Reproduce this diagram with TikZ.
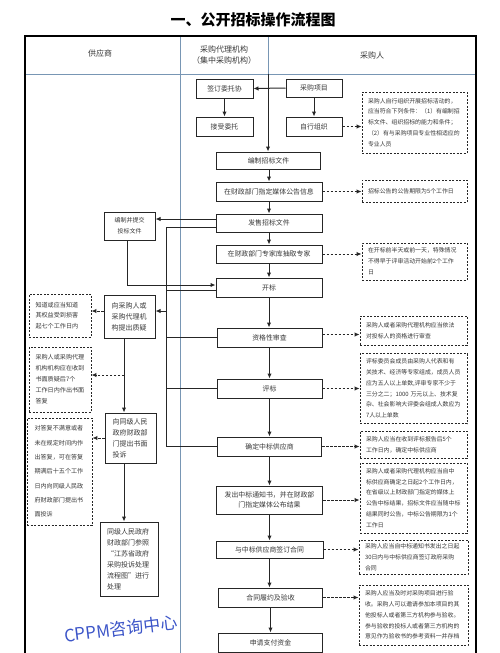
\documentclass[tikz,border=0pt]{standalone}
\usepackage{fontspec}
\newfontfamily\cjk{Noto Sans CJK SC}
\usetikzlibrary{arrows.meta,calc}
\definecolor{txt}{gray}{0.22}
\definecolor{gridc}{RGB}{120,150,180}
\definecolor{wm}{RGB}{60,85,200}
\tikzset{
 box/.style={draw=black!85, line width=1pt, fill=white, inner sep=0pt, align=center, text=txt, font=\cjk\fontsize{6.9}{10}\selectfont},
 lbox/.style={draw=black!85, line width=1pt, fill=white, inner sep=0pt, align=left, text=txt, font=\cjk\fontsize{7}{11}\selectfont},
 note/.style={draw=black!85, line width=0.9pt, dash pattern=on 2pt off 1.5pt, fill=white, inner sep=0pt, align=left, text=txt, font=\cjk\fontsize{5.9}{10.8}\selectfont},
 lnote/.style={note, font=\cjk\fontsize{6.1}{11}\selectfont},
 arr/.style={line width=1pt, draw=black!85, -{Latex[length=5pt,width=4.5pt]}},
 darr/.style={arr, dash pattern=on 2.5pt off 1.5pt},
 conn/.style={line width=1pt, draw=black!85},
 head/.style={text=txt, font=\cjk\fontsize{8}{11}\selectfont, align=center},
}
\begin{document}
\begin{tikzpicture}[x=1pt,y=-1pt]
\useasboundingbox (0,0) rectangle (500,653);
% title
\node[font=\cjk\bfseries\fontsize{15}{18}\selectfont] (title) at (253,20) {一、公开招标操作流程图};
% frame
\draw[gridc, line width=0.8pt] (25,74) -- (476,74);
\draw[gridc, line width=0.6pt] (180,36) -- (180,653);
\draw[gridc, line width=0.6pt] (268,36) -- (268,74);
\draw[line width=1.2pt] (25,653) -- (25,36) -- (476,36) -- (476,653);
\node[head] (h1) at (100,53) {供应商};
\node[head] (h2) at (224,55) {采购代理机构\\（集中采购机构）};
\node[head] (h3) at (372,55) {采购人};

% center / right boxes
\node[box, minimum width=57pt, minimum height=19pt] (wt) at (224.5,88.5) {签订委托协};
\node[box, minimum width=56pt, minimum height=18pt] (xm) at (314,88) {采购项目};
\node[box, minimum width=57pt, minimum height=19pt] (js) at (224.5,126.5) {接受委托};
\node[box, minimum width=56pt, minimum height=19pt] (zx) at (314,126.5) {自行组织};
\node[box, minimum width=104pt, minimum height=17pt] (bz) at (268.5,160.5) {编制招标文件};
\node[box, minimum width=106pt, minimum height=19pt] (gg) at (269,191.5) {在财政部门指定媒体公告信息};
\node[box, minimum width=106pt, minimum height=18pt] (fs) at (269,223) {发售招标文件};
\node[box, minimum width=106pt, minimum height=18pt] (zj) at (269,254) {在财政部门专家库抽取专家};
\node[box, minimum width=106pt, minimum height=19pt] (kb) at (269,287.5) {开标};
\node[box, minimum width=105pt, minimum height=19pt] (zg) at (269.5,337.5) {资格性审查};
\node[box, minimum width=105pt, minimum height=19pt] (pb) at (269.5,388.5) {评标};
\node[box, minimum width=104pt, minimum height=19pt] (qd) at (269.5,446.5) {确定中标供应商};
\node[box, minimum width=106pt, minimum height=28pt] (fc) at (269.5,500) {发出中标通知书，并在财政部\\门指定媒体公布结果};
\node[box, minimum width=107pt, minimum height=17pt] (qy) at (269.5,549.5) {与中标供应商签订合同};
\node[box, minimum width=104pt, minimum height=19pt] (ly) at (270.5,597.5) {合同履约及验收};
\node[box, minimum width=104pt, minimum height=19pt] (sq) at (270.5,642.5) {申请支付资金};

% notes right
\node[note, minimum width=105pt, minimum height=61pt, text width=93pt] (n1) at (414.5,122.5) {采购人自行组织开展招标活动的，\\应当符合下列条件：（1）有编制招\\标文件、组织招标的能力和条件；\\（2）有与采购项目专业性相适应的\\专业人员};
\node[note, minimum width=105pt, minimum height=22pt, text width=93pt] (n2) at (414.5,191) {招标公告的公告期限为5个工作日};
\node[note, minimum width=105pt, minimum height=37pt, text width=93pt] (n3) at (414.5,261.5) {在开标前半天或前一天，特殊情况\\不得早于评审活动开始前2个工作\\日};
\node[note, minimum width=107pt, minimum height=29pt, text width=95pt] (n4) at (413.5,330.5) {采购人或者采购代理机构应当依法\\对投标人的资格进行审查};
\node[note, minimum width=107pt, minimum height=70pt, text width=95pt] (n5) at (413.5,388.5) {评标委员会成员由采购人代表和有\\关技术、经济等专家组成，成员人员\\应为五人以上单数,评审专家不少于\\三分之二；1000 万元以上、技术复\\杂、社会影响大评委会组成人数应为\\7人以上单数};
\node[note, minimum width=107pt, minimum height=27pt, text width=95pt] (n6) at (413.5,444.5) {采购人应当在收到评标报告后5个\\工作日内，确定中标供应商};
\node[note, minimum width=107pt, minimum height=70pt, text width=95pt] (n7) at (413.5,498) {采购人或者采购代理机构应当自中\\标供应商确定之日起2个工作日内，\\在省级以上财政部门指定的媒体上\\公告中标结果，招标文件应当随中标\\结果同时公告，中标公告期限为1个\\工作日};
\node[note, minimum width=109pt, minimum height=34pt, text width=97pt] (n8) at (413.5,557) {采购人应当自中标通知书发出之日起\\30日内与中标供应商签订政府采购\\合同};
\node[note, minimum width=109pt, minimum height=60pt, text width=97pt] (n9) at (413.5,615) {采购人应当及时对采购项目进行验\\收。采购人可以邀请参加本项目的其\\他投标人或者第三方机构参与验收。\\参与验收的投标人或者第三方机构的\\意见作为验收书的参考资料一并存档};

% left boxes
\node[box, font=\cjk\fontsize{6}{11}\selectfont, minimum width=51pt, minimum height=28pt] (tj) at (129.5,226) {编制并提交\\投标文件};
\node[lbox, minimum width=51pt, minimum height=43pt, text width=36pt] (zy) at (129.5,316.5) {向采购人或\\采购代理机\\构提出质疑};
\node[lbox, minimum width=51pt, minimum height=50pt, text width=36pt] (ts) at (130.5,438) {向同级人民\\政府财政部\\门提出书面\\投诉};
\node[lbox, minimum width=58pt, minimum height=74pt, text width=44pt] (cl) at (129,559) {同级人民政府\\财政部门参照\\“江苏省政府\\采购投诉处理\\流程图”进行\\处理};
\node[lnote, font=\cjk\fontsize{6.1}{10.5}\selectfont, minimum width=62pt, minimum height=43pt, text width=49pt] (ln1) at (60,315.5) {知道或应当知道\\其权益受到损害\\起七个工作日内};
\node[lnote, minimum width=62pt, minimum height=65pt, text width=49pt] (ln2) at (60,379.5) {采购人或采购代理\\机构机构应在收到\\书面质疑后7个\\工作日内作出书面\\答复};
\node[lnote, font=\cjk\fontsize{6.1}{14.3}\selectfont, minimum width=65pt, minimum height=107pt, text width=50pt] (ln3) at (59.5,471.5) {对答复不满意或者\\未在规定时间内作\\出答复，可在答复\\期满后十五个工作\\日内向同级人民政\\府财政部门提出书\\面投诉};

% watermark
\node[rotate=7, text=wm, font=\cjk\fontsize{17}{20}\selectfont] (wmk) at (121,629) {CPPM咨询中心};

% connectors top
\draw[arr] (xm.west) -- (wt.east);
\draw[arr] (wt.south) -- (js.north);
\draw[arr] (xm.south) -- (zx.north);
\draw[darr] (zx.east) -- (zx.east -| n1.west);
\coordinate (topc) at (268,74);
\draw[arr] (topc) -- (topc |- bz.north);
% main chain
\draw[arr] (bz.south -| gg.north) -- (gg.north);
\draw[arr] (gg.south) -- (fs.north);
\draw[arr] (fs.south) -- (zj.north);
\draw[arr] (zj.south) -- (kb.north);
\draw[arr] (kb.south) -- (kb.south |- zg.north);
\draw[arr] (zg.south) -- (pb.north);
\draw[arr] (pb.south) -- (pb.south |- qd.north);
\draw[arr] (qd.south) -- (qd.south |- fc.north);
\draw[arr] (fc.south) -- (fc.south |- qy.north);
\draw[arr] (qy.south) -- (qy.south |- ly.north);
\draw[arr] (ly.south) -- (ly.south |- sq.north);
% dashed to right notes
\draw[darr] (gg.east) -- (gg.east -| n2.west);
\draw[darr] (zj.east) -- (zj.east -| n3.west);
\draw[darr] ([yshift=3pt]zg.east) -- ([yshift=3pt]zg.east -| n4.west);
\draw[darr] (pb.east) -- (pb.east -| n5.west);
\draw[darr] (qd.east) -- (qd.east -| n6.west);
\draw[darr] (fc.east) -- (fc.east -| n7.west);
\draw[darr] (qy.east) -- (qy.east -| n8.west);
\draw[darr] (ly.east) -- (ly.east -| n9.west);
% left side
\coordinate (bx) at (166,0);
\coordinate (fst) at ([yshift=4pt]fs.west);
\draw[arr] (fst) -- (fst -| tj.east);
\coordinate (fsb) at ([yshift=-4pt]fs.west);
\draw[conn] (fsb) -- (fsb -| bx) -- (qd.west -| bx) -- (qd.west);
\coordinate (kbb) at ([yshift=-2.5pt]kb.west);
\draw[conn] (kbb) -- (kbb -| bx);
\draw[conn] (zg.west) -- (zg.west -| bx);
\draw[conn] (pb.west) -- (pb.west -| bx);
\coordinate (zyin) at ([yshift=5.5pt]zy.east);
\draw[arr] (zyin -| bx) -- (zyin);
\coordinate (kbin) at ([yshift=2.5pt]kb.west);
\draw[arr] ([xshift=-2.5pt]tj.south) |- (kbin);
\coordinate (zyb) at ([xshift=-5.5pt]zy.south);
\draw[arr] (zyb) -- (zyb |- ts.north);
\coordinate (z1) at ([yshift=5.5pt]zy.west);
\draw[darr] (z1) -- (z1 -| ln1.east);
\coordinate (l2) at ([yshift=4.5pt]ln2.east);
\draw[darr] (l2 -| zyb) -- (l2);
\draw[darr] (ts.west) -- (ts.west -| ln3.east);
\coordinate (tsb) at ([xshift=-6.5pt]ts.south);
\draw[arr] (tsb) -- (tsb |- cl.north);
\end{tikzpicture}
\end{document}
